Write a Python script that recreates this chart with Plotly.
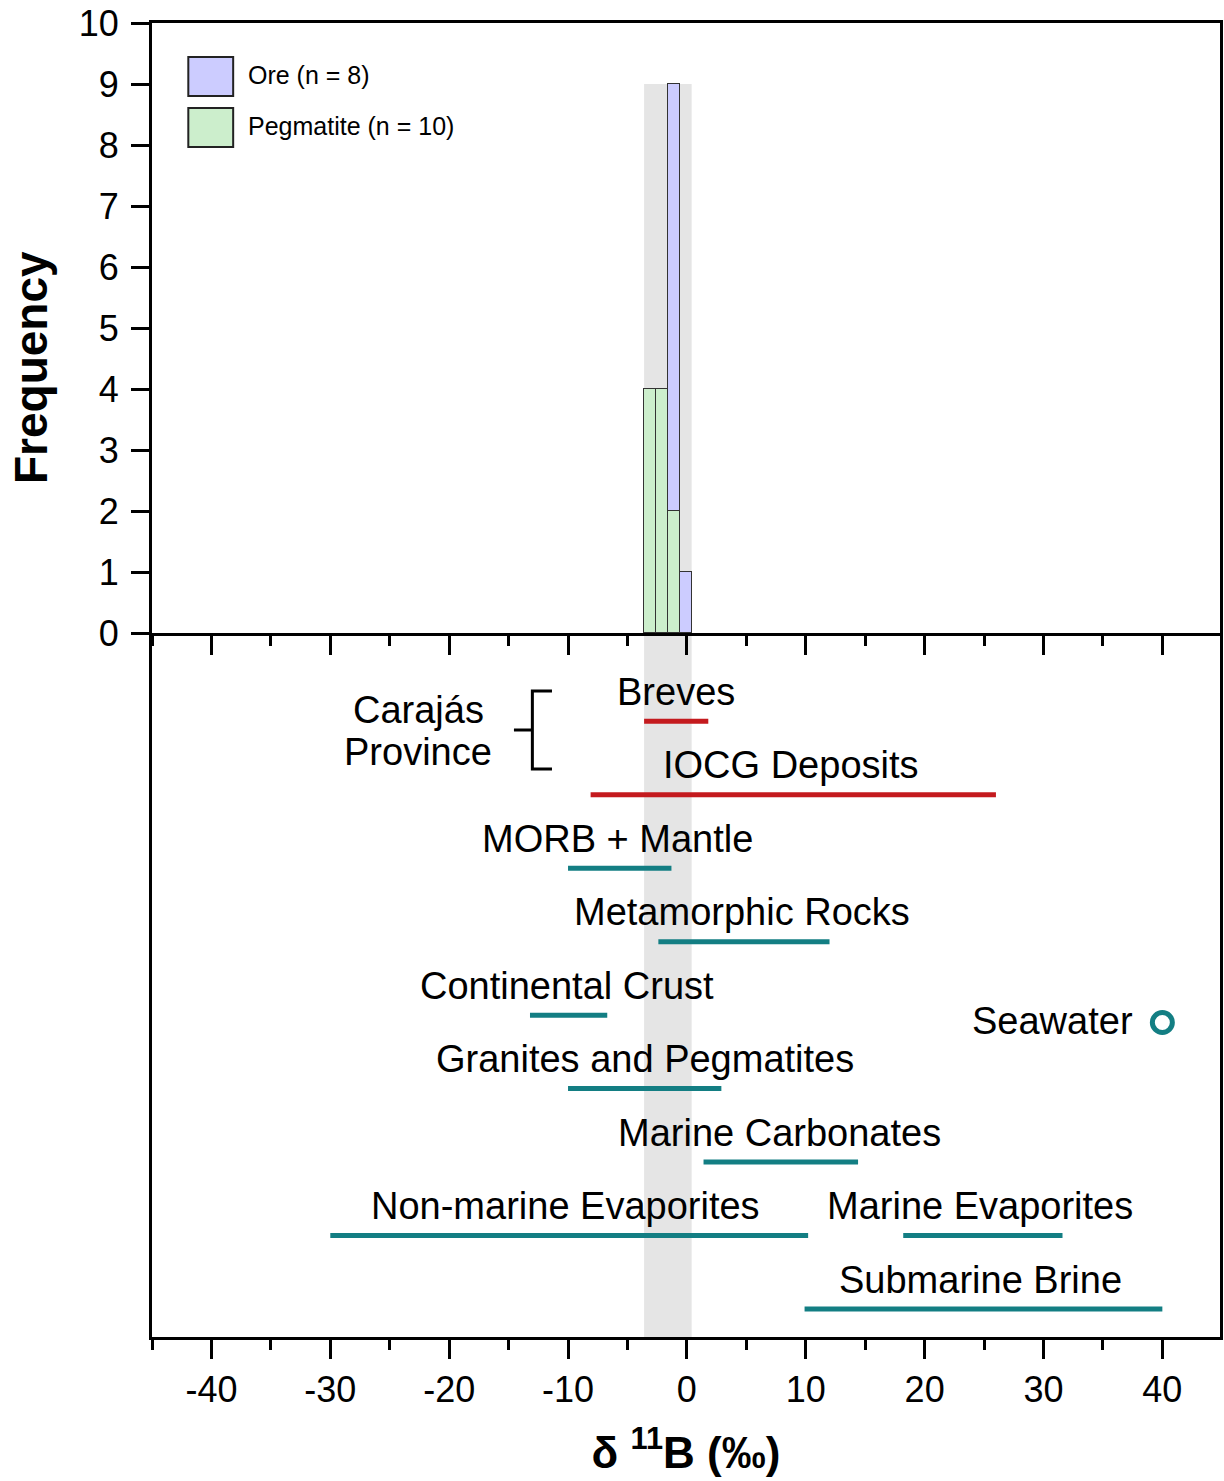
import plotly.graph_objects as go

# ---------------- data ----------------
bin_centers = [-3.1, -2.1, -1.1, -0.1]
bin_width = 0.98
series_names = ["Pegmatite (n = 10)", "Ore (n = 8)"]
pegmatite_counts = [4, 4, 2, 0]
ore_counts = [0, 0, 7, 1]

x_tick_values = [-40, -30, -20, -10, 0, 10, 20, 30, 40]
x_tick_labels = ["-40", "-30", "-20", "-10", "0", "10", "20", "30", "40"]

range_labels = ["Breves", "IOCG Deposits", "MORB + Mantle", "Metamorphic Rocks",
                "Continental Crust", "Granites and Pegmatites", "Marine Carbonates",
                "Non-marine Evaporites", "Marine Evaporites", "Submarine Brine"]
range_low = [-3.6, -8.1, -10.0, -2.4, -13.2, -10.0, 1.4, -30.0, 18.2, 9.9]
range_high = [1.8, 26.0, -1.3, 12.0, -6.7, 2.9, 14.4, 10.2, 31.6, 40.0]
range_row = [0, 1, 2, 3, 4, 5, 6, 7, 7, 8]
range_group = ["Carajás", "Carajás", "other", "other", "other", "other", "other",
               "other", "other", "other"]
label_x = [-0.9, 8.8, -5.8, 4.6, -10.1, -3.5, 7.8, -10.2, 24.7, 24.7]

seawater_value = 40.0
seawater_row = 4.1

band_low, band_high = -3.6, 0.4
band_top = 9

# ---------------- style ----------------
FONT = "Liberation Sans, Arial, sans-serif"
RED = "#C41A1E"
TEAL = "#137E83"
ORE_C = "#CCCCFF"
PEG_C = "#CCEECC"
EDGE = "#333333"
LBL = 38
XR = [-45, 44.85]

fig = go.Figure()

# histogram (top panel)
fig.add_trace(go.Bar(x=bin_centers, y=pegmatite_counts, width=bin_width,
                     name=series_names[0], marker=dict(color=PEG_C, line=dict(color=EDGE, width=1.5)),
                     xaxis="x2", yaxis="y", showlegend=False))
fig.add_trace(go.Bar(x=bin_centers, y=ore_counts, width=bin_width,
                     name=series_names[1], marker=dict(color=ORE_C, line=dict(color=EDGE, width=1.5)),
                     xaxis="x2", yaxis="y", showlegend=False))

# range bars (bottom panel)
for lab, lo, hi, r, g, lx in zip(range_labels, range_low, range_high, range_row, range_group, label_x):
    col = RED if g == "Carajás" else TEAL
    fig.add_trace(go.Scatter(x=[lo, hi], y=[r, r], mode="lines", line=dict(color=col, width=5),
                             xaxis="x", yaxis="y2", showlegend=False, hoverinfo="skip"))
    fig.add_annotation(x=lx, y=r - 0.40, xref="x", yref="y2", text=lab, showarrow=False,
                       font=dict(family=FONT, size=LBL, color="black"), xanchor="center", yanchor="middle")

# seawater
fig.add_trace(go.Scatter(x=[seawater_value], y=[seawater_row], mode="markers",
                         marker=dict(symbol="circle-open", size=20, color=TEAL, line=dict(width=5, color=TEAL)),
                         xaxis="x", yaxis="y2", showlegend=False))
fig.add_annotation(x=seawater_value - 2.3, y=seawater_row - 0.02, xref="x", yref="y2", text="Seawater",
                   showarrow=False, font=dict(family=FONT, size=LBL, color="black"),
                   xanchor="right", yanchor="middle")

# Carajás bracket
fig.add_trace(go.Scatter(x=[-11.35, -13.0, -13.0, -11.35, None, -14.55, -13.0],
                         y=[-0.41, -0.41, 0.65, 0.65, None, 0.12, 0.12],
                         mode="lines", line=dict(color="black", width=3),
                         xaxis="x", yaxis="y2", showlegend=False, hoverinfo="skip"))
fig.add_annotation(x=-22.6, y=-0.15, xref="x", yref="y2", text="Carajás", showarrow=False,
                   font=dict(family=FONT, size=LBL, color="black"), xanchor="center", yanchor="middle")
fig.add_annotation(x=-22.6, y=0.42, xref="x", yref="y2", text="Province", showarrow=False,
                   font=dict(family=FONT, size=LBL, color="black"), xanchor="center", yanchor="middle")

# grey band
shapes = [
    dict(type="rect", xref="x2", yref="y", x0=band_low, x1=band_high, y0=0, y1=band_top,
         fillcolor="#E5E5E5", line=dict(width=0), layer="below"),
    dict(type="rect", xref="x", yref="y2 domain", x0=band_low, x1=band_high, y0=0, y1=1,
         fillcolor="#E5E5E5", line=dict(width=0), layer="below"),
]

# custom legend (large swatches)
leg_items = [(series_names[1], ORE_C, 0.9741, 0.9444, 0.9604),
             (series_names[0], PEG_C, 0.9353, 0.9056, 0.9216)]
for name, col, yt, yb, ym in leg_items:
    shapes.append(dict(type="rect", xref="paper", yref="paper", x0=0.0340, x1=0.0760, y0=yb, y1=yt,
                       fillcolor=col, line=dict(color="#222222", width=2)))
    fig.add_annotation(x=0.0880, y=ym, xref="paper", yref="paper", text=name, showarrow=False,
                       font=dict(family=FONT, size=25, color="black"), xanchor="left", yanchor="middle")

# y title
fig.add_annotation(x=-0.1135, y=0.738, xref="paper", yref="paper", text="<b>Frequency</b>",
                   showarrow=False, textangle=-90, font=dict(family=FONT, size=46, color="black"),
                   xanchor="center", yanchor="middle")

split = 704 / 1314

fig.update_layout(
    width=1224, height=1481,
    margin=dict(l=152, r=1, t=23, b=144),
    paper_bgcolor="white", plot_bgcolor="white",
    barmode="stack", bargap=0,
    showlegend=False,
    shapes=shapes,
    font=dict(family=FONT, color="black"),
    xaxis=dict(domain=[0, 1], anchor="y2", range=XR,
               tickmode="array", tickvals=x_tick_values, ticktext=x_tick_labels,
               ticks="outside", ticklen=19, tickwidth=3, tickcolor="black",
               minor=dict(dtick=5, tick0=0, ticks="outside", ticklen=10, tickwidth=3, tickcolor="black"),
               showline=True, linewidth=3, linecolor="black", showgrid=False, zeroline=False,
               tickfont=dict(family=FONT, size=36, color="black"),
               title=dict(text="<b>δ <sup>11</sup>B (‰)</b>", font=dict(family=FONT, size=44, color="black"),
                          standoff=28)),
    xaxis2=dict(domain=[0, 1], anchor="y", matches="x", range=XR,
                tickmode="array", tickvals=x_tick_values,
                ticks="outside", ticklen=19, tickwidth=3, tickcolor="black",
                minor=dict(dtick=5, tick0=0, ticks="outside", ticklen=10, tickwidth=3, tickcolor="black"),
                showline=True, linewidth=3, linecolor="black", mirror=True, showgrid=False,
                zeroline=False, showticklabels=False),
    yaxis=dict(domain=[split, 1], anchor="x2", range=[0, 10], dtick=1, tick0=0,
               ticks="outside", ticklen=18, tickwidth=3, tickcolor="black",
               showline=True, linewidth=3, linecolor="black", mirror=True, showgrid=False,
               zeroline=False, ticklabelstandoff=5,
               tickfont=dict(family=FONT, size=36, color="black")),
    yaxis2=dict(domain=[0, split], anchor="x", range=[8.38, -1.2],
                showline=True, linewidth=3, linecolor="black", mirror=True, showgrid=False,
                zeroline=False, showticklabels=False, ticks=""),
)

fig.write_html("out.html")
